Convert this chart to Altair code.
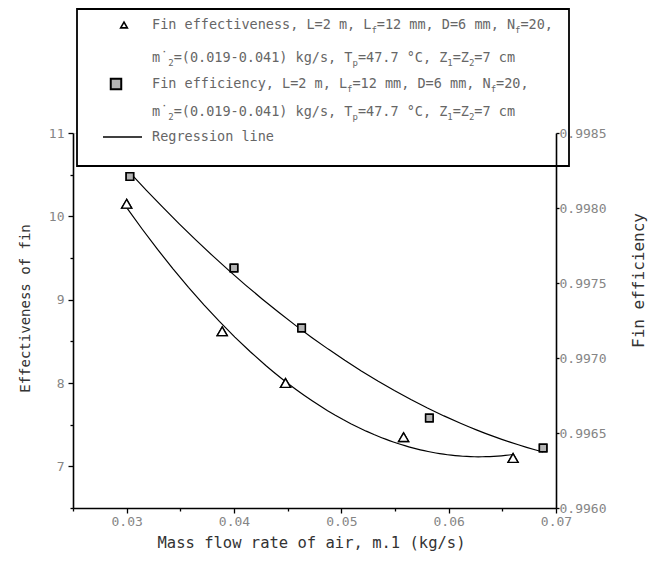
import altair as alt
import pandas as pd

# ---------------- data ----------------
eff_x = [0.0300, 0.0389, 0.0448, 0.0558, 0.0660]
eff_y = [10.15, 8.62, 8.00, 7.35, 7.10]
fin_x = [0.0303, 0.0400, 0.0463, 0.0582, 0.0688]
fin_y = [0.99821, 0.99760, 0.99720, 0.99660, 0.99640]

x_tick_values = [0.025, 0.03, 0.035, 0.04, 0.045, 0.05, 0.055, 0.06, 0.065, 0.07]
left_tick_values = [6.5, 7, 7.5, 8, 8.5, 9, 9.5, 10, 10.5, 11]
right_tick_values = [0.996, 0.99625, 0.9965, 0.99675, 0.997, 0.99725,
                     0.9975, 0.99775, 0.998, 0.99825, 0.9985]

x_title = "Mass flow rate of air, m.1 (kg/s)"
left_title = "Effectiveness of fin"
right_title = "Fin efficiency"

legend_lines = [
    [("Fin effectiveness, L=2 m, L", False), ("f", True), ("=12 mm, D=6 mm, N", False), ("f", True), ("=20,", False)],
    [("m\u02d9", False), ("2", True), ("=(0.019-0.041) kg/s, T", False), ("p", True), ("=47.7 \u00b0C, Z", False),
     ("1", True), ("=Z", False), ("2", True), ("=7 cm", False)],
    [("Fin efficiency, L=2 m, L", False), ("f", True), ("=12 mm, D=6 mm, N", False), ("f", True), ("=20,", False)],
    [("m\u02d9", False), ("2", True), ("=(0.019-0.041) kg/s, T", False), ("p", True), ("=47.7 \u00b0C, Z", False),
     ("1", True), ("=Z", False), ("2", True), ("=7 cm", False)],
    [("Regression line", False)],
]

# ---------------- layout / style ----------------
W, H = 483, 375
MONO = "DejaVu Sans Mono"
TICK_COLOR = "#858585"
TITLE_COLOR = "#333333"
LEG_COLOR = "#666666"

df_eff = pd.DataFrame({"x": eff_x, "y": eff_y})
df_fin = pd.DataFrame({"x": fin_x, "y": fin_y})
dummy = pd.DataFrame({"a": [0]})

x_axis = alt.Axis(
    values=x_tick_values,
    labelExpr="abs(datum.value*100 - round(datum.value*100)) < 1e-6 ? format(datum.value, '.2f') : ''",
    tickSize={"condition": {"test": "abs(datum.value*100 - round(datum.value*100)) < 1e-6", "value": 5}, "value": 3},
    title=x_title, titleX=238, titleY=34, titleBaseline="middle", titleAlign="center",
    titleFont=MONO, titleFontSize=15.5, titleFontWeight="normal", titleColor=TITLE_COLOR,
    labelFont=MONO, labelFontSize=13, labelColor=TICK_COLOR, labelPadding=2,
    domainColor="black", domainWidth=1.6, tickColor="black", tickWidth=1.3,
    grid=False, labelFlush=False, labelOverlap=False, zindex=1,
)
left_axis = alt.Axis(
    values=left_tick_values, orient="left",
    labelExpr="datum.value % 1 == 0 ? format(datum.value, 'd') : ''",
    tickSize={"condition": {"test": "datum.value % 1 == 0", "value": 5}, "value": 3},
    title=left_title, titleX=-48, titleY=175, titleAngle=270, titleBaseline="middle", titleAlign="center",
    titleFont=MONO, titleFontSize=14, titleFontWeight="normal", titleColor=TITLE_COLOR,
    labelFont=MONO, labelFontSize=13, labelColor=TICK_COLOR, labelPadding=4,
    domainColor="black", domainWidth=1.6, tickColor="black", tickWidth=1.3,
    grid=False, labelFlush=False, labelOverlap=False, zindex=1,
)
right_axis = alt.Axis(
    values=right_tick_values, orient="right",
    labelExpr="abs(datum.value*2000 - round(datum.value*2000)) < 1e-6 ? format(datum.value, '.4f') : ''",
    tickSize=3,
    title=right_title, titleX=82, titleY=147, titleAngle=270, titleBaseline="middle", titleAlign="center",
    titleFont=MONO, titleFontSize=16, titleFontWeight="normal", titleColor=TITLE_COLOR,
    labelFont=MONO, labelFontSize=13, labelColor=TICK_COLOR, labelPadding=0,
    domainColor="black", domainWidth=1.6, tickColor="black", tickWidth=1.3,
    grid=False, labelFlush=False, labelOverlap=False, zindex=1,
)

xs = alt.Scale(domain=[0.025, 0.07], nice=False, zero=False)
x_enc = alt.X("x:Q", scale=xs, axis=x_axis)

# left series: fin effectiveness
eff_reg = alt.Chart(df_eff).transform_regression("x", "y", method="poly", order=2).mark_line(
    color="black", strokeWidth=1.2
).encode(x=alt.X("x:Q", scale=xs), y=alt.Y("y:Q"))
eff_pts = alt.Chart(df_eff).mark_point(
    shape="triangle-up", size=100, filled=False, fill="white", fillOpacity=1,
    stroke="black", strokeWidth=1.4, opacity=1
).encode(
    x=x_enc,
    y=alt.Y("y:Q", scale=alt.Scale(domain=[6.5, 11], nice=False, zero=False), axis=left_axis),
)
left = alt.layer(eff_pts, eff_reg, eff_pts)

# right series: fin efficiency
fin_reg = alt.Chart(df_fin).transform_regression("x", "y", method="poly", order=2).mark_line(
    color="black", strokeWidth=1.2
).encode(x=alt.X("x:Q", scale=xs), y=alt.Y("y:Q"))
fin_pts = alt.Chart(df_fin).mark_point(
    shape="square", size=55, filled=True, fill="#b4b4b4", fillOpacity=1,
    stroke="black", strokeWidth=1.5, opacity=1
).encode(
    x=x_enc,
    y=alt.Y("y:Q", scale=alt.Scale(domain=[0.996, 0.9985], nice=False, zero=False), axis=right_axis),
)
right = alt.layer(fin_pts, fin_reg, fin_pts)

# ---------------- legend box (drawn by hand) ----------------
OX, OY = 73, 133  # plot-area origin in the page
box = alt.Chart(dummy).mark_rect(fill="white", stroke="black", strokeWidth=1.8).encode(
    x=alt.value(77 - OX), x2=alt.value(569 - OX), y=alt.value(9 - OY), y2=alt.value(166 - OY)
)
leg_tri = alt.Chart(dummy).mark_point(
    shape="triangle-up", size=45, filled=False, fill="white", stroke="black", strokeWidth=1.6, opacity=1
).encode(x=alt.value(124 - OX), y=alt.value(25 - OY))
leg_sq = alt.Chart(dummy).mark_point(
    shape="square", size=110, filled=True, fill="#b4b4b4", stroke="black", strokeWidth=2, opacity=1
).encode(x=alt.value(116 - OX), y=alt.value(84 - OY))
leg_line = alt.Chart(dummy).mark_rule(color="black", strokeWidth=1.3).encode(
    x=alt.value(103 - OX), x2=alt.value(142 - OX), y=alt.value(137 - OY)
)

MAIN_FS, SUB_FS = 13.5, 9
CW_MAIN, CW_SUB = 0.602 * MAIN_FS, 0.602 * SUB_FS
line_y = [25, 58, 84, 112, 137]
text_layers = []
for parts, ly in zip(legend_lines, line_y):
    cx = 152
    for t, sub in parts:
        fs = SUB_FS if sub else MAIN_FS
        yy = ly + (5 if sub else 0)
        text_layers.append(
            alt.Chart(dummy).mark_text(
                text=t, align="left", baseline="middle", font=MONO, fontSize=fs, color=LEG_COLOR
            ).encode(x=alt.value(cx - OX), y=alt.value(yy - OY))
        )
        cx += len(t) * (CW_SUB if sub else CW_MAIN)

chart = alt.layer(
    box, left, right, leg_tri, leg_sq, leg_line, *text_layers
).resolve_scale(y="independent").properties(
    width=W, height=H,
    autosize=alt.AutoSizeParams(type="none"),
    padding={"left": OX, "top": OY, "right": 657 - OX - W, "bottom": 565 - OY - H},
).configure_view(stroke=None).configure(background="white")

chart.save("out.html", embed_options={"renderer": "svg", "actions": False})
